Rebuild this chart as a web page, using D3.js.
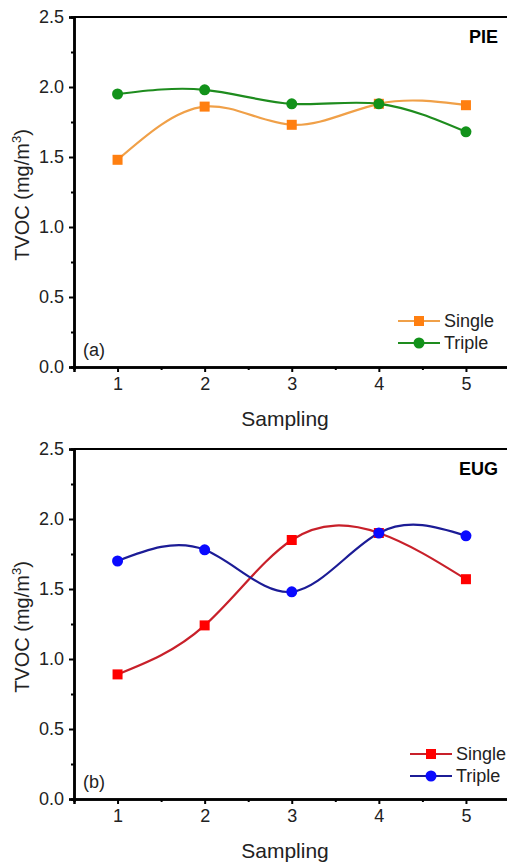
<!DOCTYPE html>
<html>
<head>
<meta charset="utf-8">
<script src="https://cdn.jsdelivr.net/npm/d3@7"></script>
<style>
  body { margin: 0; background: #fff; }
  svg { display: block; font-family: "Liberation Sans", Arial, sans-serif; }
</style>
</head>
<body>
<div id="chart"></div>
<script>
//==================================//
// Data
//
let samplings = [1, 2, 3, 4, 5]
let yMajor = [0, 0.5, 1.0, 1.5, 2.0, 2.5]
let yMinor = [0.25, 0.75, 1.25, 1.75, 2.25]
let xMinor = [1.5, 2.5, 3.5, 4.5]
let seriesNames = ['Single', 'Triple']

let pieSingle = [1.48, 1.86, 1.73, 1.88, 1.87]
let pieTriple = [1.95, 1.98, 1.88, 1.88, 1.68]
let eugSingle = [0.89, 1.24, 1.85, 1.90, 1.57]
let eugTriple = [1.70, 1.78, 1.48, 1.90, 1.88]

//==================================//
// Layout
//
let svgw = 507, svgh = 868
let svg = d3.select('#chart').append('svg').attr('width', svgw).attr('height', svgh)

let panels = [
    {top: 17, name: 'PIE', tag: '(a)', single: pieSingle, triple: pieTriple,
     colors: {sLine: '#f0a048', sMark: '#ff7f10', tLine: '#1e8c1e', tMark: '#12921a'},
     legx: 398, legy: 321},
    {top: 449, name: 'EUG', tag: '(b)', single: eugSingle, triple: eugTriple,
     colors: {sLine: '#c8202a', sMark: '#ff0000', tLine: '#1c1c96', tMark: '#0a0aff'},
     legx: 410, legy: 754}
]

let plotLeft = 74, plotRight = 509.5, plotH = 350

panels.forEach(p => {
    let g = svg.append('g').attr('transform', 'translate(0,' + p.top + ')')

    let x = d3.scaleLinear().domain([0.5, 5.5]).range([plotLeft, plotRight])
    let y = d3.scaleLinear().domain([0, 2.5]).range([plotH, 0])

    //====[ frame ]====//
    g.append('line')
        .attr('x1', plotLeft).attr('x2', plotRight)
        .attr('y1', 0).attr('y2', 0)
        .attr('stroke', '#000').attr('stroke-width', 2)
    g.append('line')
        .attr('x1', plotRight - 1).attr('x2', plotRight - 1)
        .attr('y1', 0).attr('y2', plotH)
        .attr('stroke', '#000').attr('stroke-width', 2)

    //====[ axes ]====//
    let xAx = g.append('g').attr('transform', 'translate(0,' + plotH + ')')
        .call(d3.axisBottom(x).tickValues(samplings).tickSize(5).tickPadding(5).tickFormat(d3.format('d')))
    let xAxMin = g.append('g').attr('transform', 'translate(0,' + plotH + ')')
        .call(d3.axisBottom(x).tickValues(xMinor).tickSize(3).tickFormat(''))
    let yAx = g.append('g').attr('transform', 'translate(' + plotLeft + ',0)')
        .call(d3.axisLeft(y).tickValues(yMajor).tickSize(5).tickPadding(5).tickFormat(d3.format('.1f')))
    let yAxMin = g.append('g').attr('transform', 'translate(' + plotLeft + ',0)')
        .call(d3.axisLeft(y).tickValues(yMinor).tickSize(3).tickFormat(''))

    ;[xAx, xAxMin, yAx, yAxMin].forEach(a => {
        a.select('.domain').attr('stroke-width', 2.5)
        a.selectAll('.tick line').attr('stroke-width', 2)
    })
    xAx.selectAll('text').attr('font-size', 18).attr('fill', '#222')
    yAx.selectAll('text').attr('font-size', 18).attr('fill', '#222')

    //====[ axis titles ]====//
    g.append('text')
        .attr('x', (plotLeft + 508) / 2 - 6).attr('y', plotH + 59)
        .attr('text-anchor', 'middle').attr('font-size', 21).attr('fill', '#222')
        .text('Sampling')
    let yt = g.append('text')
        .attr('transform', 'translate(29,' + (plotH / 2 + 3) + ') rotate(-90)')
        .attr('text-anchor', 'middle').attr('font-size', 20).attr('fill', '#222')
    yt.append('tspan').text('TVOC (mg/m')
    yt.append('tspan').attr('font-size', 13).attr('dy', -8).text('3')
    yt.append('tspan').attr('dy', 8).text(')')

    //====[ labels ]====//
    g.append('text').attr('x', 498).attr('y', 26)
        .attr('text-anchor', 'end').attr('font-size', 18).attr('font-weight', 'bold')
        .text(p.name)
    g.append('text').attr('x', 83).attr('y', plotH - 11)
        .attr('font-size', 18).attr('fill', '#222')
        .text(p.tag)

    //====[ series ]====//
    let line = d3.line().curve(d3.curveNatural)
        .x((d, i) => x(samplings[i])).y(d => y(d))

    let series = [
        {vals: p.single, line: p.colors.sLine, mark: p.colors.sMark, shape: 'square'},
        {vals: p.triple, line: p.colors.tLine, mark: p.colors.tMark, shape: 'circle'}
    ]

    series.forEach(s => {
        g.append('path').datum(s.vals)
            .attr('d', line).attr('fill', 'none')
            .attr('stroke', s.line).attr('stroke-width', 2.2)
    })
    series.forEach(s => {
        if (s.shape === 'square') {
            g.selectAll(null).data(s.vals).enter().append('rect')
                .attr('x', (d, i) => x(samplings[i]) - 5)
                .attr('y', d => y(d) - 5)
                .attr('width', 10).attr('height', 10)
                .attr('fill', s.mark)
        } else {
            g.selectAll(null).data(s.vals).enter().append('circle')
                .attr('cx', (d, i) => x(samplings[i]))
                .attr('cy', d => y(d))
                .attr('r', 5.5)
                .attr('fill', s.mark)
        }
    })

    //====[ legend ]====//
    let lg = svg.append('g')
    series.forEach((s, i) => {
        let ly = p.legy + i * 22
        lg.append('line')
            .attr('x1', p.legx).attr('x2', p.legx + 42)
            .attr('y1', ly).attr('y2', ly)
            .attr('stroke', s.line).attr('stroke-width', 2.2)
        if (s.shape === 'square') {
            lg.append('rect').attr('x', p.legx + 16).attr('y', ly - 5)
                .attr('width', 10).attr('height', 10).attr('fill', s.mark)
        } else {
            lg.append('circle').attr('cx', p.legx + 21).attr('cy', ly)
                .attr('r', 5.5).attr('fill', s.mark)
        }
        lg.append('text').attr('x', p.legx + 46).attr('y', ly + 6)
            .attr('font-size', 18).attr('fill', '#222')
            .text(seriesNames[i])
    })
})
</script>
</body>
</html>
